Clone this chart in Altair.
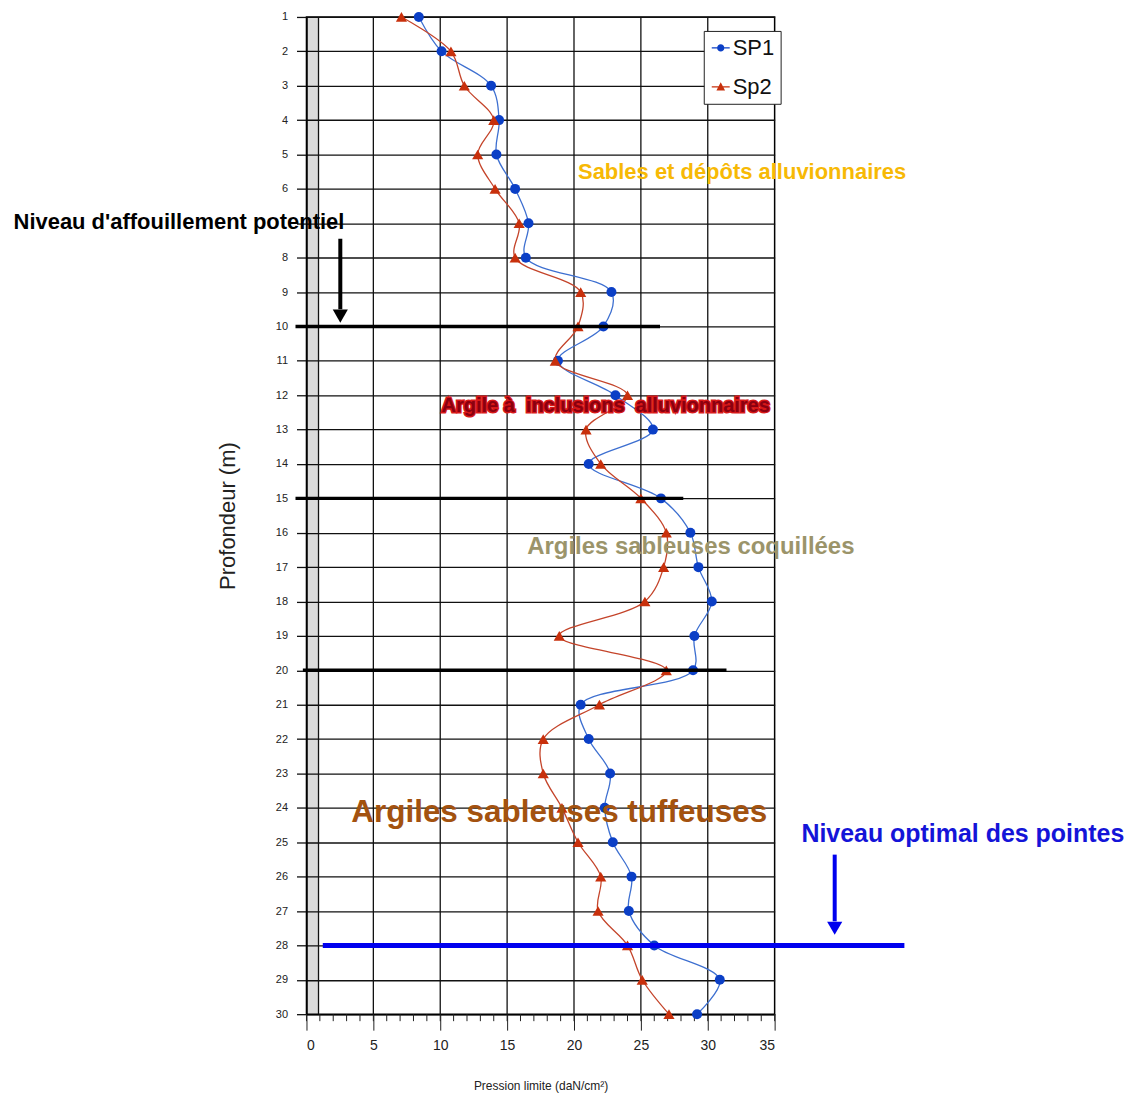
import altair as alt
import pandas as pd

# ---------------- data ----------------
depth = list(range(1, 31))
sp1 = [8.4, 10.1, 13.8, 14.4, 14.2, 15.6, 16.6, 16.4, 22.8, 22.2,
       18.8, 23.1, 25.9, 21.1, 26.5, 28.7, 29.3, 30.3, 29.0, 28.9,
       20.5, 21.1, 22.7, 22.3, 22.9, 24.3, 24.1, 26.0, 30.9, 29.2]
sp2 = [7.1, 10.8, 11.8, 14.0, 12.8, 14.1, 15.9, 15.6, 20.5, 20.3,
       18.6, 24.0, 20.9, 22.0, 25.0, 26.9, 26.7, 25.3, 18.9, 26.9,
       21.9, 17.7, 17.7, 19.1, 20.3, 22.0, 21.8, 24.0, 25.1, 27.1]
series_names = ["SP1", "Sp2"]
series_colors = ["#0b3fc6", "#c8300c"]
line_colors = ["#3d6fd0", "#c4442a"]
marker_sizes = [100, 125]

x_major = [0, 5, 10, 15, 20, 25, 30, 35]
x_minor = list(range(0, 36))
x_grid = [5, 10, 15, 20, 25, 30]
depth_ticks = list(range(1, 31))

# layer annotations (text)
ann_text = ["Niveau d'affouillement potentiel", "Sables et dépôts alluvionnaires",
            "Argile à\u00a0 inclusions\u00a0 alluvionnaires", "Argiles sableuses coquillées",
            "Argiles sableuses tuffeuses", "Niveau optimal des pointes"]
ann_x = [-21.9, 20.3, 10.1, 16.5, 3.35, 37.0]
ann_depth = [6.95, 5.5, 12.32, 16.41, 24.16, 24.77]
ann_color = ["#000000", "#f7b905", "#8a0010", "#9b946a", "#a3520f", "#1414d8"]
ann_size = [22, 22, 20, 24, 31.5, 25]

# horizontal level lines
lvl_depth = [10, 15, 20, 28]
lvl_x1 = [-0.82, -0.82, -0.27, 1.22]
lvl_x2 = [26.43, 28.17, 31.4, 44.7]
lvl_color = ["#000000", "#000000", "#000000", "#0000ee"]
lvl_width = [3.5, 3.5, 3.5, 5]

# arrows
arr_x = [2.53, 39.49]
arr_y1 = [7.45, 25.36]
arr_y2 = [9.5, 27.3]
arr_head = [9.7, 27.5]
arr_color = ["#000000", "#0000ee"]

# grey band
band_x1 = [0.0]
band_x2 = [0.9]

# ---------------- tables ----------------
df = pd.DataFrame({
    "depth": depth * 2,
    "value": sp1 + sp2,
    "series": [series_names[0]] * len(depth) + [series_names[1]] * len(depth),
})
ann = pd.DataFrame({"text": ann_text, "x": ann_x, "depth": ann_depth,
                    "color": ann_color, "size": ann_size})
lvl = pd.DataFrame({"depth": lvl_depth, "x1": lvl_x1, "x2": lvl_x2,
                    "color": lvl_color, "w": lvl_width})
arr = pd.DataFrame({"x": arr_x, "y1": arr_y1, "y2": arr_y2, "head": arr_head,
                    "color": arr_color})
band = pd.DataFrame({"x1": band_x1, "x2": band_x2, "d1": [1], "d2": [30]})
grid_df = pd.DataFrame({"x": x_grid})
minor_df = pd.DataFrame({"x": x_minor})

FONT = "Liberation Sans, Arial, sans-serif"

xscale = alt.Scale(domain=[0, 35], nice=False, zero=False)
yscale = alt.Scale(domain=[1, 30], nice=False, zero=False, reverse=True)

xaxis = alt.Axis(
    values=x_major, title="Pression limite (daN/cm²)",
    tickSize=16, grid=False, labelOverlap=False,
    tickColor="#222222", tickWidth=1, domainColor="#000000", domainWidth=1.5,
    labelFont=FONT, labelFontSize=14, labelColor="#222222", labelPadding=8,
    titleFont=FONT, titleFontSize=12, titleFontWeight="normal", titleColor="#222222",
    titlePadding=28,
)
yaxis = alt.Axis(
    values=depth_ticks, title="Profondeur (m)", labelOverlap=False,
    # the depth-7 label is hidden under the "Niveau d'affouillement" annotation
    labelExpr="datum.value === 7 ? '' : datum.label",
    tickSize=10, tickColor="#111111", tickWidth=1.3,
    grid=True, gridColor="#111111", gridWidth=1.3,
    domainColor="#000000", domainWidth=1.5,
    labelFont=FONT, labelFontSize=11, labelColor="#222222", labelPadding=9,
    titleFont=FONT, titleFontSize=22,
    titleFontWeight="normal", titleColor="#222222", titlePadding=36,
)

band_layer = alt.Chart(band).mark_rect(color="#000000", opacity=0.14).encode(
    x=alt.X("x1:Q", scale=xscale, axis=xaxis),
    x2="x2:Q",
    y=alt.Y("d1:Q", scale=yscale, axis=yaxis),
    y2="d2:Q",
)
band_edge = alt.Chart(band).mark_rule(color="#111111", strokeWidth=1.3).encode(
    x=alt.X("x2:Q", axis=xaxis), y=alt.Y("d1:Q", axis=yaxis), y2="d2:Q")

vgrid = alt.Chart(grid_df).mark_rule(color="#111111", strokeWidth=1.3).encode(
    x=alt.X("x:Q", axis=xaxis), y=alt.value(0), y2=alt.value(999))
minor_ticks = alt.Chart(minor_df).mark_rule(color="#222222", strokeWidth=1).encode(
    x=alt.X("x:Q", axis=xaxis), y=alt.value(999), y2=alt.value(1006))

base = alt.Chart(df)
lines = base.mark_line(interpolate="catmull-rom", strokeWidth=1.3).encode(
    x=alt.X("value:Q", scale=xscale, axis=xaxis),
    y=alt.Y("depth:Q", scale=yscale, axis=yaxis),
    order="depth:Q",
    color=alt.Color("series:N", scale=alt.Scale(domain=series_names, range=line_colors),
                    legend=None),
)
points = base.mark_point(filled=True, opacity=1).encode(
    x=alt.X("value:Q", axis=xaxis), y=alt.Y("depth:Q", axis=yaxis),
    color=alt.Color("series:N", scale=alt.Scale(domain=series_names, range=series_colors),
                    legend=None),
    shape=alt.Shape("series:N", scale=alt.Scale(domain=series_names,
                                                range=["circle", "triangle-up"]),
                    legend=None),
    size=alt.Size("series:N", scale=alt.Scale(domain=series_names, range=marker_sizes),
                  legend=None),
)

line_circle = ("M-1,-0.07H1V0.07H-1Z "
               "M-0.4,0A0.4,0.4 0 1 1 0.4,0A0.4,0.4 0 1 1 -0.4,0Z")
line_tri = ("M-1,-0.07H1V0.07H-1Z "
            "M0,-0.5L0.48,0.42L-0.48,0.42Z")
leg = alt.Legend(
    title=None, orient="none", legendX=398, legendY=14,
    strokeColor="#222222", fillColor="#ffffff", padding=6,
    symbolSize=324, symbolOpacity=1, symbolStrokeWidth=0,
    labelFont=FONT, labelFontSize=22, labelColor="#111111",
    labelOffset=1, rowPadding=17)
legend_layer = base.transform_filter("false").mark_point(filled=True, opacity=1).encode(
    x=alt.X("value:Q", axis=xaxis), y=alt.Y("depth:Q", axis=yaxis),
    color=alt.Color("series:N", scale=alt.Scale(domain=series_names, range=series_colors),
                    legend=leg),
    shape=alt.Shape("series:N", scale=alt.Scale(domain=series_names,
                                                range=[line_circle, line_tri]),
                    legend=leg),
)

levels = alt.Chart(lvl).mark_rule().encode(
    x=alt.X("x1:Q", axis=xaxis), x2="x2:Q", y=alt.Y("depth:Q", axis=yaxis),
    color=alt.Color("color:N", scale=None),
    strokeWidth=alt.StrokeWidth("w:Q", scale=None),
)

arrow_shaft = alt.Chart(arr).mark_rule(strokeWidth=4).encode(
    x=alt.X("x:Q", axis=xaxis), y=alt.Y("y1:Q", axis=yaxis), y2="y2:Q",
    color=alt.Color("color:N", scale=None))
arrow_head = alt.Chart(arr).mark_point(shape="triangle-down", filled=True, size=230,
                                       opacity=1).encode(
    x=alt.X("x:Q", axis=xaxis), y=alt.Y("head:Q", axis=yaxis),
    color=alt.Color("color:N", scale=None))

halo = alt.Chart(ann.iloc[[2]]).mark_text(
    align="left", baseline="middle", font=FONT, fontWeight="bold",
    stroke="#d81818", strokeWidth=3).encode(
    x=alt.X("x:Q", axis=xaxis), y=alt.Y("depth:Q", axis=yaxis), text="text:N",
    size=alt.Size("size:Q", scale=None), color=alt.value("#d81818"))
texts = alt.Chart(ann).mark_text(
    align="left", baseline="middle", font=FONT, fontWeight="bold").encode(
    x=alt.X("x:Q", axis=xaxis), y=alt.Y("depth:Q", axis=yaxis), text="text:N",
    size=alt.Size("size:Q", scale=None), color=alt.Color("color:N", scale=None))

chart = alt.layer(
    band_layer, band_edge, vgrid, minor_ticks, lines, points, legend_layer, levels,
    arrow_shaft, arrow_head, halo, texts,
).resolve_scale(
    color="independent", shape="independent", size="independent",
    strokeWidth="independent",
).properties(
    width=469, height=999,
    autosize=alt.AutoSizeParams(type="none"),
    padding={"left": 299, "top": 8, "right": 360, "bottom": 82},
).configure_view(
    stroke="#000000", strokeWidth=1.5
).configure_axis(labelOverlap=False)

chart.save("out.html", embed_options={"renderer": "svg", "actions": False})
